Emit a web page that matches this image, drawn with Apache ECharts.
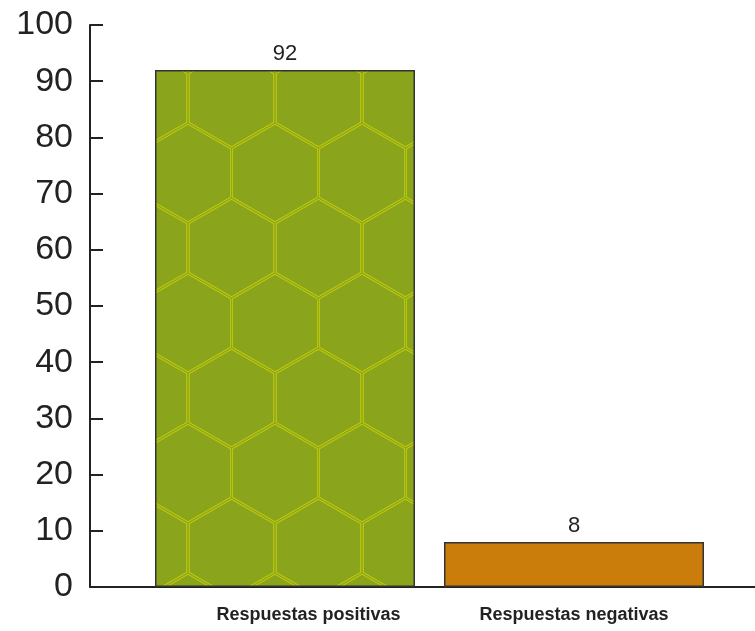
<!DOCTYPE html>
<html>
<head>
<meta charset="utf-8">
<script src="https://cdn.jsdelivr.net/npm/echarts@6/dist/echarts.min.js"></script>
<style>
  html, body { margin: 0; padding: 0; background: #fff; }
  #myChart { width: 755px; height: 631px; }
</style>
</head>
<body>
<div id="myChart"></div>
<script>
  var categories = ['Respuestas positivas', 'Respuestas negativas']
  var values = [92, 8]
  var yTicks = [0, 10, 20, 30, 40, 50, 60, 70, 80, 90, 100]

  // honeycomb tile for the first bar
  function hexTile () {
    var s = 50, w = 87, H = 150
    var c = document.createElement('canvas')
    c.width = w
    c.height = H
    var ctx = c.getContext('2d')
    ctx.fillStyle = '#8aa41c'
    ctx.fillRect(0, 0, w, H)
    var centers = []
    for (var k = -2; k <= 2; k++) {
      for (var j = -2; j <= 2; j++) {
        centers.push([57.5 + k * w, 98 + j * H])
        centers.push([14 + k * w, 23 + j * H])
      }
    }
    function path (cx, cy) {
      ctx.beginPath()
      ctx.moveTo(cx, cy - s)
      ctx.lineTo(cx + w / 2, cy - s / 2)
      ctx.lineTo(cx + w / 2, cy + s / 2)
      ctx.lineTo(cx, cy + s)
      ctx.lineTo(cx - w / 2, cy + s / 2)
      ctx.lineTo(cx - w / 2, cy - s / 2)
      ctx.closePath()
    }
    centers.forEach(function (p) {
      path(p[0], p[1])
      ctx.strokeStyle = '#c2cc0e'
      ctx.lineWidth = 3
      ctx.stroke()
    })
    centers.forEach(function (p) {
      path(p[0], p[1])
      ctx.strokeStyle = '#93aa18'
      ctx.lineWidth = 1.2
      ctx.stroke()
    })
    return c
  }

  var barColors = [{ image: hexTile(), repeat: 'repeat' }, '#cb7d0c']

  var myChart = echarts.init(document.getElementById('myChart'))
  myChart.setOption({
    animation: false,
    grid: { left: 90, right: 0, top: 25, bottom: 44 },
    xAxis: {
      type: 'value',
      min: -0.6747,
      max: 1.6263,
      splitLine: { show: false },
      axisTick: { show: false },
      axisLine: { show: true, lineStyle: { color: '#222', width: 2 } },
      axisLabel: {
        customValues: [0, 1],
        margin: 19,
        formatter: function (v) {
          var i = Math.round(v)
          return i === 0 ? '{p|' + categories[i] + '}' : '{n|' + categories[i] + '}'
        },
        rich: {
          p: { fontFamily: 'Liberation Sans', fontWeight: 'bold', fontSize: 18, color: '#222', padding: [0, 0, 0, 47] },
          n: { fontFamily: 'Liberation Sans', fontWeight: 'bold', fontSize: 18, color: '#222' }
        }
      }
    },
    yAxis: {
      type: 'value',
      min: yTicks[0],
      max: yTicks[yTicks.length - 1],
      interval: 10,
      splitLine: { show: false },
      axisLine: { show: true, onZero: false, lineStyle: { color: '#222', width: 2 } },
      axisTick: { show: true, inside: true, length: 13, lineStyle: { color: '#222', width: 2 } },
      axisLabel: {
        margin: 17,
        fontFamily: 'Liberation Sans',
        fontSize: 34,
        color: '#222'
      }
    },
    series: [{
      type: 'bar',
      barWidth: 260,
      data: values.map(function (v, i) {
        return {
          value: [i, v],
          itemStyle: { color: barColors[i], borderColor: '#333', borderWidth: 1.5 }
        }
      }),
      label: {
        show: true,
        position: 'top',
        distance: 5,
        fontFamily: 'Liberation Sans',
        fontSize: 22,
        color: '#222',
        formatter: function (p) { return p.value[1] }
      }
    }]
  })
</script>
</body>
</html>
